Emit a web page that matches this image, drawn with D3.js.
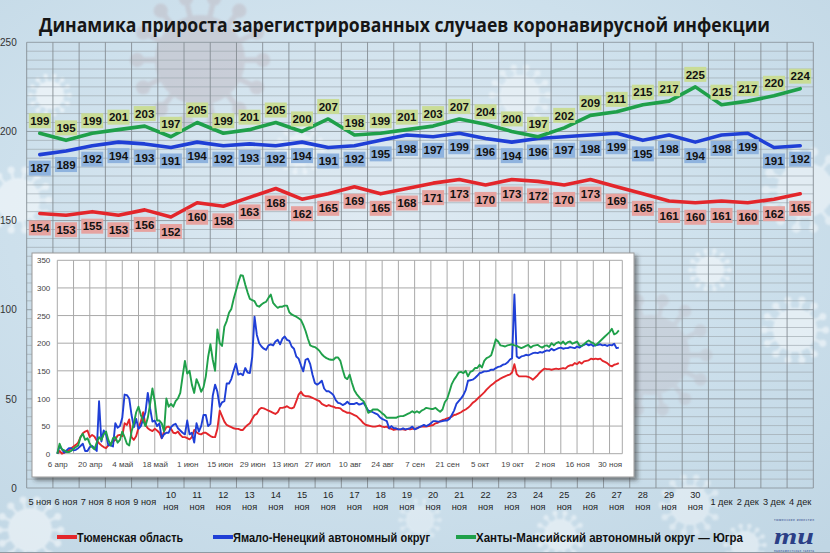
<!DOCTYPE html>
<html><head><meta charset="utf-8">
<script src="https://cdn.jsdelivr.net/npm/d3@7"></script>
<style>
html,body{margin:0;padding:0;background:#cfe1ec;}
body{width:830px;height:553px;overflow:hidden;}
svg{display:block;}
</style></head><body>
<svg id="c" width="830" height="553"></svg>
<script>
// ---------- DATA ----------
const categories = ["5 ноя","6 ноя","7 ноя","8 ноя","9 ноя","10 ноя","11 ноя","12 ноя","13 ноя","14 ноя",
  "15 ноя","16 ноя","17 ноя","18 ноя","19 ноя","20 ноя","21 ноя","22 ноя","23 ноя","24 ноя",
  "25 ноя","26 ноя","27 ноя","28 ноя","29 ноя","30 ноя","1 дек","2 дек","3 дек","4 дек"];
const tyumen = [154,153,155,153,156,152,160,158,163,168,162,165,169,165,168,171,173,170,173,172,170,173,169,165,161,160,161,160,162,165];
const yanao  = [187,189,192,194,193,191,194,192,193,192,194,191,192,195,198,197,199,196,194,196,197,198,199,195,198,194,198,199,191,192];
const hmao   = [199,195,199,201,203,197,205,199,201,205,200,207,198,199,201,203,207,204,200,197,202,209,211,215,217,225,215,217,220,224];
const mainYTicks = [0,50,100,150,200,250];
const seriesNames = ["Тюменская область","Ямало-Ненецкий автономный округ","Ханты-Мансийский автономный округ — Югра"];
const titleText = "Динамика прироста зарегистрированных случаев коронавирусной инфекции";

// inset: daily values from 6 April 2020
const insetStart = "2020-04-06";
const insetTyumen = [
  0,5,0,2,4,6,10,13,16,20, 30,37,40,42,30,34,31,24,19,15, 12,10,15,18,22,25,33,34,32,55,
  52,62,30,25,32,47,58,75,52,46, 43,41,45,42,38,28,40,48,49,45, 38,37,40,34,30,30,28,26,30,43,
  39,36,35,38,38,35,32,30,30,45, 78,68,58,52,50,48,46,45,45,43, 43,48,52,55,63,70,72,80,83,82,
  80,78,76,74,72,75,83,83,84,86, 83,82,84,95,107,112,106,104,104,103, 101,99,97,95,90,88,86,88,86,85,
  83,83,82,78,76,74,74,72,70,68, 64,60,55,52,51,50,49,49,50,51, 49,48,49,46,45,43,44,44,44,44,
  43,45,44,45,45,46,48,49,49,49, 50,51,52,55,56,59,61,62,64,65, 67,70,71,73,75,78,80,83,87,92,
  95,99,103,107,111,116,120,124,127,131, 133,136,138,140,142,143,147,162,144,140, 140,140,140,139,137,134,138,142,147,151,
  154,153,153,152,153,154,153,154,155,154, 158,160,160,164,162,166,163,167,168,169, 172,171,172,171,172,168,166,164,160,158,
  161,162,164];
const insetYanao = [
  0,14,8,2,6,10,10,6,7,10, 14,18,5,5,12,14,10,5,95,22, 42,35,15,15,13,55,47,50,65,107,
  106,100,70,48,63,45,50,62,75,110, 82,58,60,50,55,28,35,38,38,48, 52,54,46,42,38,35,60,35,38,20,
  55,40,50,70,70,50,54,105,125,112, 85,93,95,127,127,135,150,163,143,145, 142,155,147,146,175,248,215,200,194,190,
  188,196,198,196,203,206,198,208,212,206, 204,194,190,176,172,160,149,170,172,162, 143,128,125,128,132,118,113,113,110,106,
  97,92,91,88,90,94,90,90,90,92, 89,90,92,85,78,77,75,73,71,66, 63,61,59,46,50,46,46,44,44,46,
  44,45,46,49,44,46,48,50,52,50, 52,55,59,59,58,58,59,60,60,63, 70,78,90,95,100,106,115,132,133,134,
  137,141,146,147,149,149,150,152,152,155, 157,158,161,162,165,170,173,288,176,173, 176,177,179,178,180,182,183,182,184,183,
  185,187,186,190,187,189,191,192,190,191, 191,193,192,191,194,192,195,197,199,196, 198,195,196,197,198,196,197,195,197,196,
  199,191,192];
const insetHmao = [
  0,18,8,6,3,3,5,9,12,15, 30,36,25,28,18,12,8,20,30,25, 35,40,25,15,28,30,20,25,40,30,
  18,15,40,55,75,85,70,60,50,65, 90,118,95,60,60,55,40,100,85,90, 85,95,100,110,140,168,145,150,125,110,
  135,125,112,120,140,175,198,170,150,225, 200,195,230,240,255,262,280,295,310,323, 322,306,292,280,278,276,268,266,270,273,
  275,282,288,273,268,264,266,266,268,268, 256,252,250,248,245,242,233,222,208,196, 194,193,190,186,180,176,173,171,170,170,
  174,174,168,152,138,135,143,128,115,108, 103,98,95,86,74,76,80,80,80,77, 73,70,65,65,65,65,65,67,68,68,
  70,72,74,77,74,77,74,78,80,83, 82,81,81,83,79,76,80,93,99,112, 126,134,140,147,148,146,150,140,148,150,
  155,155,161,156,168,173,175,178,192,207, 203,196,195,194,196,197,198,196,195,193, 191,193,195,197,192,195,196,197,194,192,
  195,196,193,200,196,200,202,199,203,198, 202,203,199,201,203,196,195,198,202,205, 202,200,196,200,204,208,212,216,220,226,
  216,218,223];
const insetTickLabels = ["6 апр","20 апр","4 май","18 май","1 июн","15 июн","29 июн","13 июл","27 июл","10 авг","24 авг","7 сен","21 сен","5 окт","19 окт","2 ноя","16 ноя","30 ноя"];
const insetYTicks = [0,50,100,150,200,250,300,350];

// ---------- STYLE ----------
const colors = {red:"#e3262b", blue:"#1f3fd6", green:"#1fa04a"};
const labelFill = {red:"#e6a3a0", blue:"#8fb3de", green:"#c9dc96"};

const svg = d3.select("#c");
const W = 830, H = 553;
const defs = svg.append("defs");
const bg = defs.append("radialGradient").attr("id","bg").attr("cx","45%").attr("cy","40%").attr("r","80%");
bg.append("stop").attr("offset","0%").attr("stop-color","#dfeaf2");
bg.append("stop").attr("offset","55%").attr("stop-color","#cde0ec");
bg.append("stop").attr("offset","100%").attr("stop-color","#c0d6e4");
const sh = defs.append("filter").attr("id","shadow").attr("x","-5%").attr("y","-5%").attr("width","115%").attr("height","115%");
sh.append("feDropShadow").attr("dx",3).attr("dy",3).attr("stdDeviation",2).attr("flood-color","#333").attr("flood-opacity",0.55);
const blur = defs.append("filter").attr("id","soft");
blur.append("feGaussianBlur").attr("stdDeviation",1.2);

svg.append("rect").attr("width",W).attr("height",H).attr("fill","url(#bg)");

// decorative virus shapes (background)
function virus(g, cx, cy, r, col, op){
  const v = g.append("g").attr("transform",`translate(${cx},${cy})`).attr("opacity",op).attr("filter","url(#soft)");
  const n = 14;
  for(let k=0;k<n;k++){
    const a = k/n*2*Math.PI;
    v.append("line").attr("x1",0).attr("y1",0).attr("x2",Math.cos(a)*r*1.35).attr("y2",Math.sin(a)*r*1.35)
      .attr("stroke",col).attr("stroke-width",r*0.12);
    v.append("circle").attr("cx",Math.cos(a)*r*1.4).attr("cy",Math.sin(a)*r*1.4).attr("r",r*0.16).attr("fill",col);
  }
  v.append("circle").attr("r",r).attr("fill",col);
}
const deco = svg.append("g");
virus(deco, 200, 60, 45, "#b9a9b0", 0.35);
virus(deco, 50, 95, 14, "#ffffff", 0.55);
virus(deco, 18, 200, 22, "#ffffff", 0.5);
virus(deco, 300, 150, 16, "#ffffff", 0.4);
virus(deco, 520, 95, 20, "#ffffff", 0.4);
virus(deco, 805, 190, 28, "#ffffff", 0.45);
virus(deco, 795, 330, 22, "#ffffff", 0.5);
virus(deco, 710, 270, 14, "#ffffff", 0.5);
virus(deco, 650, 355, 40, "#b7a7ae", 0.25);
virus(deco, 30, 530, 22, "#ffffff", 0.5);
virus(deco, 560, 535, 16, "#ffffff", 0.45);
virus(deco, 690, 505, 20, "#ffffff", 0.4);
virus(deco, 745, 545, 14, "#ffffff", 0.45);
virus(deco, 420, 520, 14, "#ffffff", 0.35);

// ---------- MAIN CHART ----------
const x = d3.scaleBand().domain(categories).range([26.7, 813.3]).padding(0);
const y = d3.scaleLinear().domain([0,250]).range([488, 42.3]);
const cx = c => x(c) + x.bandwidth()/2;

const grid = svg.append("g");
grid.selectAll("line.h").data(d3.range(0,251,5)).join("line")
  .attr("x1",x.range()[0]).attr("x2",x.range()[1])
  .attr("y1",d=>y(d)).attr("y2",d=>y(d))
  .attr("stroke",d=> d%50===0 ? "#8a949b" : "#9ea8ae").attr("stroke-width",d=> d%50===0 ? 1 : 0.8).attr("opacity",0.85);
grid.selectAll("line.v").data(categories.map(c=>x(c)).concat([x.range()[1]])).join("line")
  .attr("x1",d=>d).attr("x2",d=>d).attr("y1",y(0)).attr("y2",y(250))
  .attr("stroke","#868e94").attr("stroke-width",1).attr("opacity",0.9);

const yAxis = svg.append("g").attr("transform",`translate(${x.range()[0]},0)`)
  .call(d3.axisLeft(y).tickValues(mainYTicks).tickSize(0).tickPadding(10));
yAxis.select(".domain").remove();
yAxis.selectAll("text").attr("font-family","Liberation Sans, Arial, sans-serif").attr("font-size",10).attr("fill","#333");

const xAxis = svg.append("g").attr("transform",`translate(0,${y(0)})`)
  .call(d3.axisBottom(x).tickSize(0).tickPadding(10));
xAxis.select(".domain").remove();
xAxis.selectAll("text").attr("font-family","Liberation Sans, Arial, sans-serif").attr("font-size",9.2).attr("fill","#222")
  .each(function(d){
    const parts = d.split(" ");
    if (parts[0].length > 1) {
      const t = d3.select(this).text(null);
      t.append("tspan").attr("x",0).attr("dy",0).text(parts[0]);
      t.append("tspan").attr("x",0).attr("dy","1.3em").text(parts[1]);
    }
  });

const mainSeries = [
  {key:"red", values:tyumen, off:14.5},
  {key:"blue", values:yanao, off:13.5},
  {key:"green", values:hmao, off:-12.5}
];
const line = d3.line().x((d,i)=>cx(categories[i])).y(d=>y(d));
svg.append("g").selectAll("path").data(mainSeries).join("path")
  .attr("d",s=>line(s.values)).attr("fill","none").attr("stroke",s=>colors[s.key])
  .attr("stroke-width",3.6).attr("stroke-linejoin","round").attr("stroke-linecap","round");

mainSeries.forEach(s=>{
  const g = svg.append("g");
  const lab = g.selectAll("g").data(s.values).join("g")
    .attr("transform",(d,i)=>`translate(${cx(categories[i])},${y(d)+s.off})`);
  lab.append("rect").attr("x",-11).attr("y",-7.5).attr("width",22).attr("height",15).attr("fill",labelFill[s.key]);
  lab.append("text").attr("text-anchor","middle").attr("dy","0.36em")
    .attr("font-family","Liberation Sans, Arial, sans-serif").attr("font-weight","bold").attr("font-size",11.5).attr("fill","#111")
    .text(d=>d);
});

// ---------- INSET ----------
const IB = {x:32, y:253, w:602, h:224};
svg.append("rect").attr("x",IB.x).attr("y",IB.y).attr("width",IB.w).attr("height",IB.h)
  .attr("fill","#ffffff").attr("stroke","#9a9a9a").attr("stroke-width",1).attr("filter","url(#shadow)");

const t0 = d3.utcParse("%Y-%m-%d")(insetStart);
const ix = d3.scaleUtc().domain([t0, d3.utcHour.offset(t0, Math.round(243.5*24))]).range([57.3, 622.3]);
const iy = d3.scaleLinear().domain([0,350]).range([453.7, 260.3]);
const weekDays = d3.range(0, 239, 7).map(k=>d3.utcDay.offset(t0,k));
const ig = svg.append("g");
ig.selectAll("line.h").data(insetYTicks).join("line")
  .attr("x1",ix.range()[0]).attr("x2",ix.range()[1]).attr("y1",d=>iy(d)).attr("y2",d=>iy(d))
  .attr("stroke","#a9a9a9").attr("stroke-width",1);
ig.selectAll("line.v").data(weekDays).join("line")
  .attr("x1",d=>ix(d)).attr("x2",d=>ix(d)).attr("y1",iy(0)).attr("y2",iy(350))
  .attr("stroke","#a9a9a9").attr("stroke-width",1);
ig.append("line").attr("x1",ix.range()[1]).attr("x2",ix.range()[1]).attr("y1",iy(0)).attr("y2",iy(350))
  .attr("stroke","#a9a9a9").attr("stroke-width",1);

const iyAxis = svg.append("g").attr("transform",`translate(${ix.range()[0]},0)`)
  .call(d3.axisLeft(iy).tickValues(insetYTicks).tickSize(0).tickPadding(7));
iyAxis.select(".domain").remove();
iyAxis.selectAll("text").attr("font-family","Liberation Sans, Arial, sans-serif").attr("font-size",8).attr("fill","#444");

const tickDates = d3.range(0, 239, 14).map(k=>d3.utcDay.offset(t0,k));
const ixAxis = svg.append("g").attr("transform",`translate(0,${iy(0)})`)
  .call(d3.axisBottom(ix).tickValues(tickDates).tickFormat((d,i)=>insetTickLabels[i]).tickSize(0).tickPadding(7.5));
ixAxis.select(".domain").remove();
ixAxis.selectAll("text").attr("font-family","Liberation Sans, Arial, sans-serif").attr("font-size",8).attr("fill","#444");

const insetSeries = [
  {key:"red", values:insetTyumen},
  {key:"blue", values:insetYanao},
  {key:"green", values:insetHmao}
];
const iline = d3.line().x((d,i)=>ix(d3.utcDay.offset(t0,i))).y(d=>iy(d));
svg.append("g").selectAll("path").data(insetSeries).join("path")
  .attr("d",s=>iline(s.values)).attr("fill","none").attr("stroke",s=>colors[s.key])
  .attr("stroke-width",1.9).attr("stroke-linejoin","round");

// ---------- TITLE ----------
svg.append("text").attr("x",39).attr("y",31.5)
  .attr("font-family","Open Sans, Liberation Sans, sans-serif").attr("font-weight","bold").attr("font-size",19)
  .attr("fill","#161616").attr("textLength",731).attr("lengthAdjust","spacingAndGlyphs").text(titleText);

// ---------- LEGEND ----------
const legend = [
  {key:"red", x1:57, x2:77, tw:106},
  {key:"blue", x1:213, x2:233, tw:197},
  {key:"green", x1:456, x2:476, tw:267}
];
const lg = svg.append("g");
legend.forEach((l,i)=>{
  lg.append("line").attr("x1",l.x1).attr("x2",l.x2).attr("y1",537).attr("y2",537)
    .attr("stroke",colors[l.key]).attr("stroke-width",4);
  lg.append("text").attr("x",l.x2).attr("y",541.5)
    .attr("font-family","Liberation Sans, Arial, sans-serif").attr("font-weight","bold").attr("font-size",12.5)
    .attr("fill","#111").attr("textLength",l.tw).attr("lengthAdjust","spacingAndGlyphs").text(seriesNames[i]);
});

// ---------- LOGO ----------
const logo = svg.append("g").attr("fill","#2b3f86");
logo.append("text").attr("x",794).attr("y",520.5).attr("text-anchor","middle")
  .attr("font-family","Liberation Sans, sans-serif").attr("font-size",3.3).attr("textLength",40).text("тюменские известия");
logo.append("text").attr("x",794).attr("y",544).attr("text-anchor","middle")
  .attr("font-family","Liberation Serif, DejaVu Serif, serif").attr("font-weight","bold").attr("font-style","italic").attr("font-size",23)
  .attr("textLength",40).attr("lengthAdjust","spacingAndGlyphs").text("ти");
logo.append("text").attr("x",794).attr("y",552).attr("text-anchor","middle")
  .attr("font-family","Liberation Sans, sans-serif").attr("font-size",3.1).attr("textLength",40).text("парламентская газета");

svg.append("line").attr("x1",0).attr("x2",W).attr("y1",552.5).attr("y2",552.5).attr("stroke","#8f9aa2").attr("stroke-width",1);
</script>
</body></html>
